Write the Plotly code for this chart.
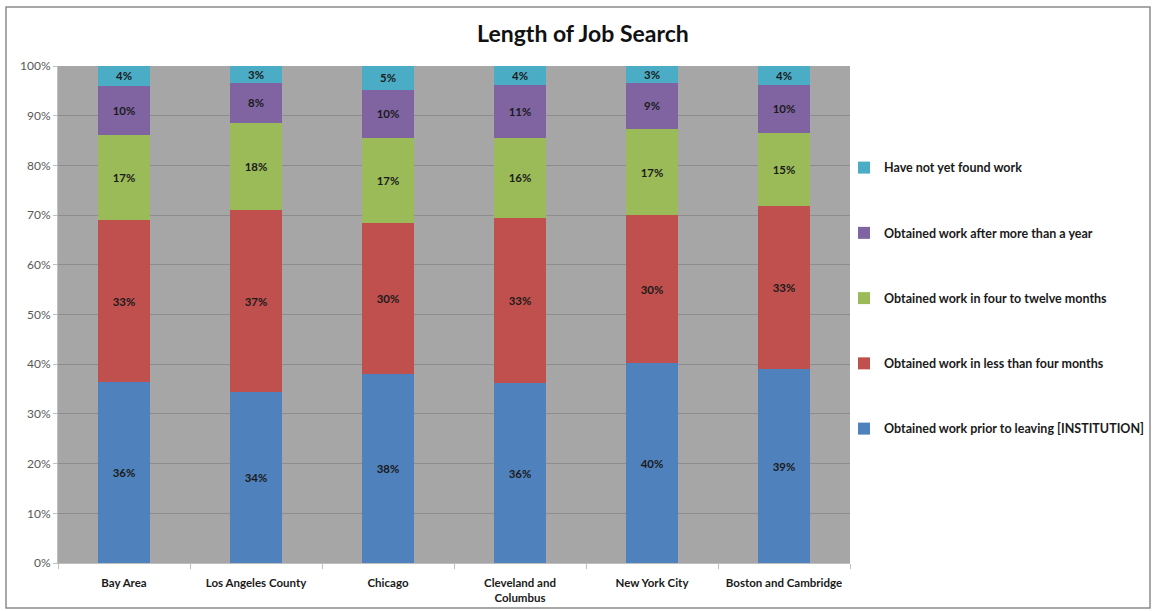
import plotly.graph_objects as go

categories = ["Bay Area", "Los Angeles County", "Chicago", "Cleveland and<br>Columbus",
              "New York City", "Boston and Cambridge"]

prior_to_leaving = [36.4, 34.4, 38.0, 36.2, 40.2, 39.0]
less_than_four = [32.6, 36.6, 30.4, 33.2, 29.8, 32.8]
four_to_twelve = [17.1, 17.6, 17.1, 16.2, 17.3, 14.7]
more_than_year = [9.9, 8.0, 9.7, 10.6, 9.3, 9.7]
not_yet_found = [4.0, 3.4, 4.8, 3.8, 3.4, 3.8]

series_names = [
    "Obtained work prior to leaving [INSTITUTION]",
    "Obtained work in less than four months",
    "Obtained work in four to twelve months",
    "Obtained work after more than a year",
    "Have not yet found work",
]
series_values = [prior_to_leaving, less_than_four, four_to_twelve, more_than_year, not_yet_found]
colors = ["#4f81bd", "#c0504d", "#9bbb59", "#8064a2", "#4bacc6"]

y_ticks = list(range(0, 101, 10))
y_tick_text = [f"{v}%" for v in y_ticks]

FONT = "Lato, 'Open Sans', sans-serif"

fig = go.Figure()
n = len(series_names)
for i, (name, vals, col) in enumerate(zip(series_names, series_values, colors)):
    fig.add_trace(go.Bar(
        x=categories, y=vals, name=name,
        marker=dict(color=col, line=dict(width=0)),
        texttemplate="%{y:.0f}%",
        textposition="inside",
        insidetextanchor="middle",
        textangle=0,
        textfont=dict(family=FONT, size=11.5, color="#1a1a1a", weight="bold"),
        legendgroup=f"g{i}",
        legendrank=n - i,
        hoverinfo="skip",
    ))

fig.update_layout(
    width=1153, height=611,
    barmode="stack",
    bargap=0.6,
    plot_bgcolor="#a6a6a6",
    paper_bgcolor="white",
    margin=dict(l=58, r=303, t=66, b=48, autoexpand=False),
    title=dict(text="<b>Length of Job Search</b>", x=0.5056, xref="container", xanchor="center",
               y=0.945, yanchor="middle",
               font=dict(family=FONT, size=23, color="#111")),
    uniformtext=dict(mode="show", minsize=11),
    legend=dict(
        x=0.9924, xanchor="left", y=0.825, yanchor="top",
        traceorder="grouped",
        tracegroupgap=46,
        font=dict(family=FONT, size=12.5, color="#1a1a1a", weight="bold"),
        itemwidth=30,
        bgcolor="rgba(0,0,0,0)",
    ),
    xaxis=dict(
        type="category",
        showline=True, linecolor="#bfbfbf", linewidth=1,
        ticks="outside", tickson="boundaries", ticklen=5, tickcolor="#bfbfbf",
        ticklabelstandoff=9,
        tickfont=dict(family=FONT, size=11.5, color="#1a1a1a", weight="bold"),
        showgrid=False,
    ),
    yaxis=dict(
        range=[0, 100],
        tickvals=y_ticks, ticktext=y_tick_text,
        tickfont=dict(family=FONT, size=12, color="#595959"),
        showgrid=True, gridcolor="#8c8c8c", gridwidth=1,
        ticks="outside", ticklen=4, tickcolor="#bfbfbf",
        showline=True, linecolor="#bfbfbf",
        zeroline=False,
    ),
    shapes=[dict(type="rect", xref="paper", yref="paper",
                 x0=(6 - 58) / 792, x1=(1150 - 58) / 792,
                 y0=(563 - 608) / 497, y1=(563 - 7) / 497,
                 line=dict(color="#8c8c8c", width=1.5), layer="below")],
)

fig.write_html("out.html", config={"displayModeBar": False},
               post_script="document.body.style.margin='0';")
